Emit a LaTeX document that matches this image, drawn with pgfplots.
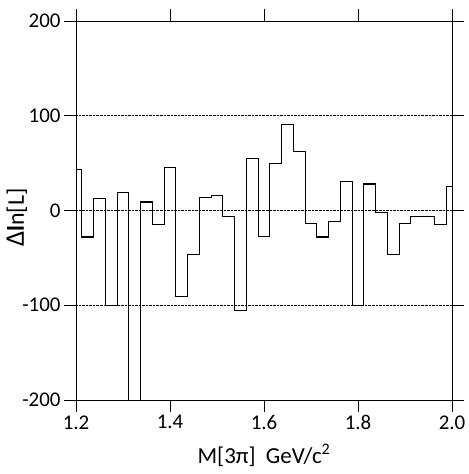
\documentclass[border=0pt]{standalone}
\usepackage{fontspec}
\setmainfont{Carlito}
\usepackage{pgfplots}
\pgfplotsset{compat=1.18}
\begin{document}
\begin{tikzpicture}
\path[use as bounding box] (-76bp,-74bp) rectangle (393bp,400bp);
\begin{axis}[
  scale only axis,
  width=376bp, height=379bp,
  xmin=1.2, xmax=2.0, ymin=-200, ymax=200,
  xtick={1.2,1.4,...,2.0},
  ytick={-200,-100,0,100,200},
  tick pos=both, tick align=outside,
  major tick length=12bp,
  xticklabels={1.2,1.4,1.6,1.8,2.0},
  xticklabel pos=lower, yticklabel pos=left,
  /pgf/number format/assume math mode=true,
  tick label style={font=\fontsize{21}{24}\selectfont},
  every tick/.style={black, line width=0.8pt},
  axis line style={line width=0.8pt},
  extra y ticks={-100,0,100},
  extra y tick labels={},
  extra y tick style={grid=major, major grid style={black, densely dotted, line width=0.6pt}, major tick length=0pt},
  xlabel={M[3π]\ \ GeV/c\textsuperscript{2}},
  ylabel={{\fontsize{27}{30}\selectfont Δ}\textbf{l}n[L]},
  xlabel style={font=\fontsize{23}{26}\selectfont, at={(axis description cs:0.5,0)}, anchor=base, yshift=-63bp},
  ylabel style={font=\fontsize{24}{27}\selectfont, at={(axis description cs:0,0.5)}, anchor=base, yshift=52bp, xshift=-7bp},
  clip=true,
]
\addplot[const plot mark mid, black, line width=1.1pt] coordinates {
(1.200,43) (1.225,-28) (1.250,13) (1.275,-100) (1.300,19) (1.325,-260)
(1.350,9) (1.375,-15) (1.400,45) (1.425,-91) (1.450,-46) (1.475,14)
(1.500,16) (1.525,-6) (1.550,-106) (1.575,55) (1.600,-27) (1.625,50)
(1.650,91) (1.675,62) (1.700,-14) (1.725,-28) (1.750,-12) (1.775,31)
(1.800,-100) (1.825,28) (1.850,-2) (1.875,-46) (1.900,-14) (1.925,-6)
(1.950,-6) (1.975,-15) (2.000,25)
};
\end{axis}
\end{tikzpicture}
\end{document}
